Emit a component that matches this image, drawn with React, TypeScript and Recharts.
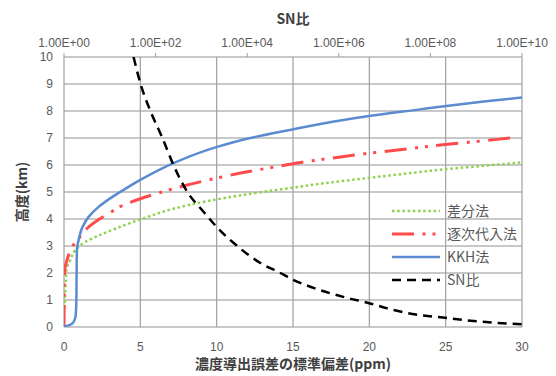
import React from 'react';
import { ComposedChart, Line, XAxis, YAxis, CartesianGrid, Legend, Label } from 'recharts';

const W = 556;
const H = 376;

// Axis ticks
const ppmTicks = [0, 5, 10, 15, 20, 25, 30];
const heightTicks = [0, 1, 2, 3, 4, 5, 6, 7, 8, 9, 10];
const snTicks = [1, 1e2, 1e4, 1e6, 1e8, 1e10];

// 差分法
const sabunPpm = [0.05, 0.1, 0.16, 0.42, 0.75, 1.4, 2.25, 3.37, 4.48, 5.2, 7.16, 9.38, 11.5, 14.6, 17.0, 20.1, 23.3, 24.9, 27.7, 30];
const sabunHeight = [0.7, 1.5, 2.1, 2.5, 2.85, 3.15, 3.38, 3.64, 3.88, 4.02, 4.38, 4.66, 4.87, 5.13, 5.32, 5.53, 5.74, 5.84, 5.98, 6.1];

// 逐次代入法
const chikujiPpm = [0.0, 0.01, 0.03, 0.07, 0.13, 0.29, 0.49, 0.75, 1.6, 2.25, 3.17, 3.82, 5.0, 6.3, 7.94, 9.58, 12.2, 13.6, 14.8, 18.1, 20.8, 22.8, 24.8, 26.8, 28.2, 29.5];
const chikujiHeight = [0.0, 1.0, 2.0, 2.2, 2.35, 2.65, 2.95, 3.12, 3.7, 3.97, 4.29, 4.5, 4.75, 4.98, 5.24, 5.46, 5.77, 5.91, 6.03, 6.3, 6.49, 6.62, 6.75, 6.86, 6.94, 7.02];

// KKH法
const kkhPpm = [0.02, 0.35, 0.62, 0.76, 0.8, 0.82, 0.83, 0.85, 0.95, 1.21, 1.6, 2.25, 3.17, 3.82, 5.0, 7.29, 10.03, 12.2, 14.8, 17.6, 20.1, 23.3, 24.9, 27.5, 30];
const kkhHeight = [0.02, 0.07, 0.18, 0.4, 0.8, 1.5, 2.3, 2.9, 3.2, 3.7, 4.07, 4.44, 4.82, 5.05, 5.45, 6.1, 6.67, 7.0, 7.3, 7.6, 7.82, 8.06, 8.18, 8.35, 8.5];

// SN比
const snValue = [33, 47, 77, 141, 245, 495, 1100, 2230, 5000, 1.9e4, 5.3e4, 1e5, 2.8e5, 1.5e6, 4.2e6, 1.1e7, 3.1e7, 2.1e8, 1.4e9, 1e10];
const snHeight = [10, 9, 8, 7, 6, 5, 4.28, 3.68, 3.12, 2.38, 2.0, 1.75, 1.45, 1.08, 0.9, 0.7, 0.52, 0.34, 0.19, 0.1];

const sabunData = sabunPpm.map((x, i) => ({ x, h: sabunHeight[i] }));
const chikujiData = chikujiPpm.map((x, i) => ({ x, h: chikujiHeight[i] }));
const kkhData = kkhPpm.map((x, i) => ({ x, h: kkhHeight[i] }));
const snData = snValue.map((sn, i) => ({ sn, h: snHeight[i] }));

const JP = '"Noto Sans CJK JP", "Noto Sans", sans-serif';
const NUM = '"Liberation Sans", Arial, sans-serif';
const TEXT = '#595959';

const series = [
  { name: '差分法', color: '#92D050', dash: '2.5 2.7', width: 2.5 },
  { name: '逐次代入法', color: '#FF4B4B', dash: '22 8.5 3 7 3 8.5', width: 3 },
  { name: 'KKH法', color: '#5B8BD0', dash: undefined as string | undefined, width: 2.5 },
  { name: 'SN比', color: '#000000', dash: '9 6', width: 2.5 },
];

const fmtSN = (v: number) => {
  const e = Math.round(Math.log10(v));
  return `1.00E+${String(e).padStart(2, '0')}`;
};

const renderLegend = () => (
  <div style={{ fontFamily: JP, fontSize: 14, color: TEXT }}>
    {series.map((s) => (
      <div key={s.name} style={{ display: 'flex', alignItems: 'center', height: 23 }}>
        <svg width={50} height={10}>
          <line x1={0} y1={5} x2={48} y2={5} stroke={s.color} strokeWidth={s.width} strokeDasharray={s.dash} />
        </svg>
        <span style={{ marginLeft: 5, lineHeight: '23px' }}>{s.name}</span>
      </div>
    ))}
  </div>
);

export default function App() {
  return (
    <div style={{ position: 'absolute', left: 0, top: 0, width: W, height: H, background: '#fff' }}>
      <ComposedChart width={W} height={H} margin={{ top: 27, right: 34, bottom: 19, left: 0 }}>
        <CartesianGrid xAxisId="bottom" yAxisId="h" vertical={false} stroke="#c8c8c8" strokeWidth={2} />
        <CartesianGrid xAxisId="bottom" yAxisId="h" horizontal={false} stroke="#a0a0a0" strokeWidth={1.2} />
        <XAxis
          xAxisId="bottom"
          dataKey="x"
          type="number"
          domain={[0, 30]}
          ticks={ppmTicks}
          height={30}
          axisLine={false}
          tickLine={false}
          tickSize={0}
          tickMargin={15}
          tick={{ fill: TEXT, fontSize: 12, fontFamily: NUM }}
          allowDataOverflow
        >
          <Label
            content={(p: any) => {
              const vb = p.viewBox;
              return (
                <text x={vb.x + vb.width / 2} y={363} textAnchor="middle" dominantBaseline="central" fill="#404040" fontSize={14} fontWeight="bold" fontFamily={JP}>
                  濃度導出誤差の標準偏差(ppm)
                </text>
              );
            }}
          />
        </XAxis>
        <XAxis
          xAxisId="top"
          orientation="top"
          dataKey="sn"
          type="number"
          scale="log"
          domain={[1, 1e10]}
          ticks={snTicks}
          tickFormatter={fmtSN}
          height={30}
          axisLine={false}
          tickLine={{ stroke: '#a0a0a0' }}
          tickSize={4}
          tickMargin={6}
          tick={{ fill: TEXT, fontSize: 12, fontFamily: NUM }}
          allowDataOverflow
        >
          <Label
            content={(p: any) => {
              const vb = p.viewBox;
              return (
                <text x={vb.x + vb.width / 2} y={18} textAnchor="middle" dominantBaseline="central" fill="#404040" fontSize={14} fontWeight="bold" fontFamily={JP}>
                  SN比
                </text>
              );
            }}
          />
        </XAxis>
        <YAxis
          yAxisId="h"
          type="number"
          domain={[0, 10]}
          ticks={heightTicks}
          width={64}
          axisLine={false}
          tickLine={false}
          tickSize={0}
          tickMargin={11}
          tick={{ fill: TEXT, fontSize: 12, fontFamily: NUM }}
          allowDataOverflow
        >
          <Label
            content={(p: any) => {
              const vb = p.viewBox;
              const cx = 21;
              const cy = vb.y + vb.height / 2;
              return (
                <text x={cx} y={cy} transform={`rotate(-90 ${cx} ${cy})`} textAnchor="middle" dominantBaseline="central" fill="#404040" fontSize={14} fontWeight="bold" fontFamily={JP}>
                  高度(km)
                </text>
              );
            }}
          />
        </YAxis>
        <Legend
          layout="vertical"
          align="center"
          verticalAlign="middle"
          content={renderLegend}
          wrapperStyle={{ left: 392, top: 199, width: 150, height: 92 }}
        />
        <Line xAxisId="bottom" yAxisId="h" data={sabunData} dataKey="h" name="差分法" type="monotoneY"
          stroke={series[0].color} strokeWidth={series[0].width} strokeDasharray={series[0].dash} dot={false} isAnimationActive={false} />
        <Line xAxisId="bottom" yAxisId="h" data={chikujiData} dataKey="h" name="逐次代入法" type="monotoneY"
          stroke={series[1].color} strokeWidth={series[1].width} strokeDasharray={series[1].dash} dot={false} isAnimationActive={false} />
        <Line xAxisId="bottom" yAxisId="h" data={kkhData} dataKey="h" name="KKH法" type="monotoneY"
          stroke={series[2].color} strokeWidth={series[2].width} dot={false} isAnimationActive={false} />
        <Line xAxisId="top" yAxisId="h" data={snData} dataKey="h" name="SN比" type="monotoneX"
          stroke={series[3].color} strokeWidth={series[3].width} strokeDasharray={series[3].dash} dot={false} isAnimationActive={false} />
      </ComposedChart>
    </div>
  );
}
